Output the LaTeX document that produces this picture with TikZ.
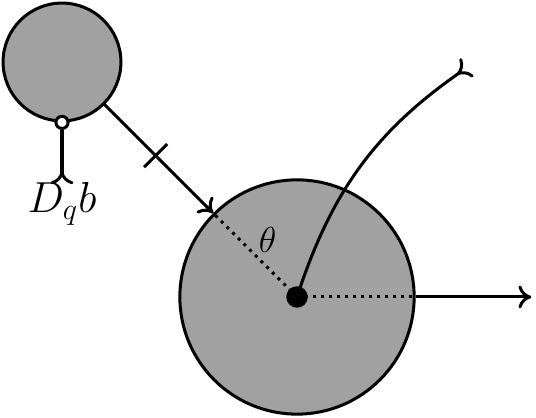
\documentclass[tikz,border=0pt]{standalone}
\usetikzlibrary{arrows.meta, calc}
\begin{document}
\begin{tikzpicture}[
    blob/.style={circle, draw, fill=black!37, line width=1.2pt, inner sep=0pt},
    ln/.style={line width=1.2pt},
    dotln/.style={line width=1.2pt, dotted},
    fork/.style={-{To[reversed, length=1.8mm, width=3.2mm]}},
    arr/.style={-{To[length=1.8mm, width=3.2mm]}},
  ]
    \useasboundingbox (-4.158,-1.694) rectangle (3.346,4.158);

    % --- blobs ---
    \node[blob, minimum size=3.28cm] (big)   at (0,0)          {};
    \node[blob, minimum size=1.65cm] (small) at (-3.29,3.29)  {};
    \node[circle, draw, fill=white, line width=1.2pt, inner sep=0pt,
          minimum size=0.17cm] (vert) at (small.south) {};
    \fill (big.center) circle (0.15cm);

    % --- D_q b leg ---
    \coordinate (dq) at ($(vert.south)+(0,-0.76)$);
    \draw[ln, fork] (vert.south) -- (dq);
    \node[anchor=north, inner sep=0pt, font=\LARGE] (dqlbl) at ([yshift=0.03cm]dq) {$D_qb$};

    % --- small -> big ---
    \draw[ln, arr] (small.-45) -- (big.135);
    \coordinate (mid) at ($(small.-45)!0.47!(big.135)$);
    \draw[ln] ($(mid)!0.23cm!90:(big.135)$) -- ($(mid)!0.23cm!-90:(big.135)$);

    % --- angle ---
    \draw[dotln] (big.center) -- (big.135);
    \node[font=\Large] (theta) at (-0.41,0.80) {$\theta$};

    % --- outgoing ---
    \coordinate (tip) at (2.39,3.22);
    \draw[ln, fork] (big.center) to[out=72, in=215] (tip);
    \draw[dotln] (big.center) -- (big.east);
    \coordinate (xend) at (3.28,0);
    \draw[ln, arr] (big.east) -- (xend);
\end{tikzpicture}
\end{document}
